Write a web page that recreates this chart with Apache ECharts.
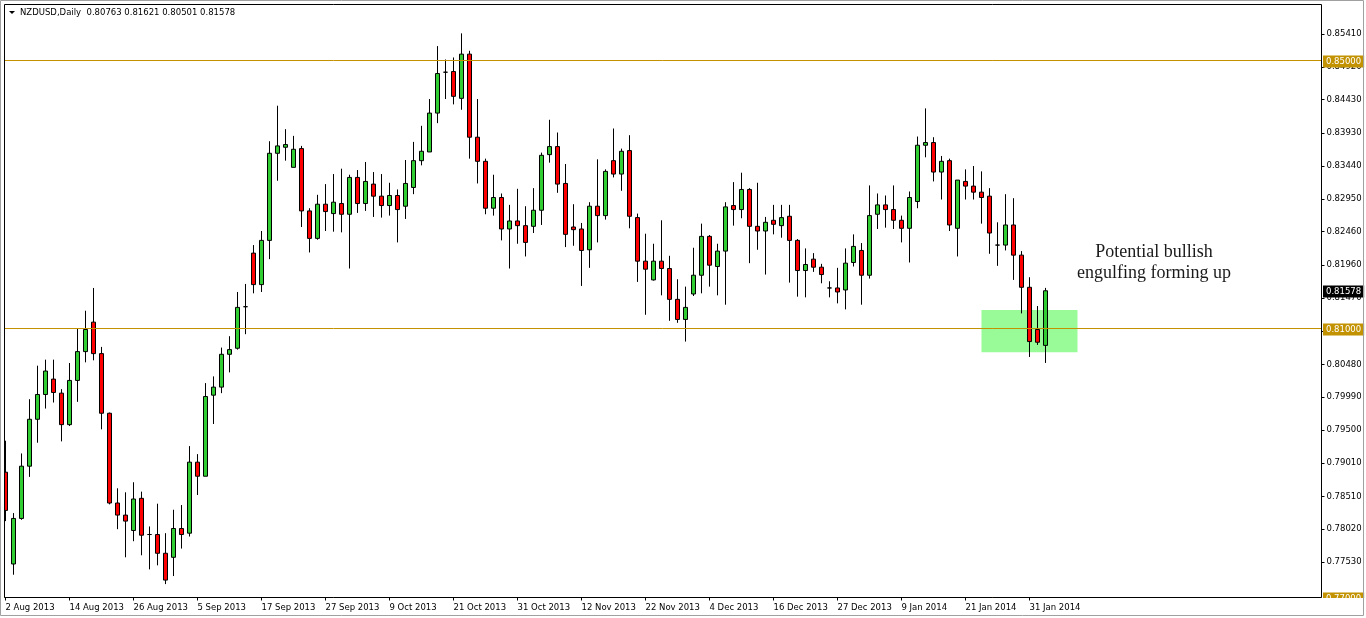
<!DOCTYPE html>
<html>
<head>
<meta charset="utf-8">
<script src="https://cdn.jsdelivr.net/npm/echarts/dist/echarts.min.js"></script>
<style>
html,body{margin:0;padding:0;background:#fff;}
#c{width:1366px;height:618px;}
</style>
</head>
<body>
<div id="c"></div>
<script>
// ---- data ----
const symbolName = 'NZDUSD';
const periodName = 'Daily';

// trading days shown on the chart (one candle each)
const tradingDays = [
  ['Aug 2013', [2,5,6,7,8,9,12,13,14,15,16,19,20,21,22,23,26,27,28,29,30]],
  ['Sep 2013', [2,3,4,5,6,9,10,11,12,13,16,17,18,19,20,23,24,25,26,27,30]],
  ['Oct 2013', [1,2,3,4,7,8,9,10,11,14,15,16,17,18,21,22,23,24,25,28,29,30,31]],
  ['Nov 2013', [1,4,5,6,7,8,11,12,13,14,15,18,19,20,21,22,25,26,27,28,29]],
  ['Dec 2013', [2,3,4,5,6,9,10,11,12,13,16,17,18,19,20,23,24,26,27,30,31]],
  ['Jan 2014', [2,3,6,7,8,9,10,13,14,15,16,17,20,21,22,23,24,27,28,29,30,31]],
  ['Feb 2014', [3,4]]
];
// empty space to the right of the last candle
const futureDays = [
  ['Feb 2014', [5,6,7,10,11,12,13,14,17,18,19,20,21,24,25,26,27,28]],
  ['Mar 2014', [3,4,5,6,7,10,11,12,13,14,17,18,19,20,21,24]]
];

const opens = [
0.7887,0.7750,0.7818,0.7896,0.7966,0.8003,0.8026,0.8005,0.7958,0.8024,
0.8067,0.8111,0.8064,0.7975,0.7841,0.7823,0.7800,0.7848,0.7794,0.7794,
0.7766,0.7760,0.7803,0.7796,0.7902,0.7881,0.8002,0.8014,0.8063,0.8072,
0.8134,0.8214,0.8167,0.8233,0.8363,0.8372,0.8342,0.8370,0.8277,0.8236,
0.8287,0.8273,0.8288,0.8272,0.8327,0.8288,0.8317,0.8299,0.8285,0.8300,
0.8284,0.8312,0.8352,0.8365,0.8423,0.8484,0.8485,0.8445,0.8511,0.8387,
0.8351,0.8281,0.8297,0.8250,0.8262,0.8255,0.8254,0.8278,0.8361,0.8373,
0.8318,0.8253,0.8250,0.8219,0.8284,0.8270,0.8352,0.8332,0.8367,0.8267,
0.8202,0.8174,0.8202,0.8191,0.8145,0.8115,0.8153,0.8181,0.8239,0.8194,
0.8217,0.8285,0.8279,0.8309,0.8254,0.8247,0.8263,0.8255,0.8269,0.8233,
0.8188,0.8205,0.8193,0.8162,0.8162,0.8159,0.8200,0.8218,0.8181,0.8272,
0.8286,0.8279,0.8263,0.8251,0.8291,0.8375,0.8379,0.8335,0.8352,0.8251,
0.8321,0.8314,0.8305,0.8299,0.8226,0.8226,0.8256,0.8211,0.8163,0.8100,
0.80763];
const highs = [
0.7934,0.7826,0.7915,0.7996,0.8046,0.8055,0.8055,0.8011,0.8050,0.8102,
0.8128,0.8162,0.8074,0.7976,0.7863,0.7857,0.7872,0.7858,0.7806,0.7840,
0.7796,0.7831,0.7838,0.7926,0.7914,0.8020,0.8030,0.8073,0.8090,0.8156,
0.8168,0.8226,0.8247,0.8381,0.8434,0.8399,0.8389,0.8374,0.8281,0.8301,
0.8317,0.8332,0.8340,0.8331,0.8338,0.8350,0.8335,0.8332,0.8319,0.8309,
0.8353,0.8380,0.8404,0.8444,0.8523,0.8503,0.8506,0.8542,0.8516,0.8444,
0.8355,0.8331,0.8303,0.8286,0.8310,0.8284,0.8311,0.8364,0.8413,0.8394,
0.8347,0.8287,0.8259,0.8290,0.8354,0.8339,0.8400,0.8370,0.8390,0.8273,
0.8243,0.8228,0.8263,0.8210,0.8175,0.8164,0.8222,0.8258,0.8241,0.8228,
0.8290,0.8320,0.8334,0.8311,0.8319,0.8268,0.8286,0.8286,0.8286,0.8235,
0.8221,0.8214,0.8198,0.8172,0.8192,0.8221,0.8242,0.8229,0.8315,0.8303,
0.8300,0.8315,0.8270,0.8306,0.8388,0.8430,0.8387,0.8359,0.8355,0.8323,
0.8339,0.8344,0.8336,0.8311,0.8260,0.8302,0.8296,0.8217,0.8178,0.8135,
0.81621];
const lows = [
0.7814,0.7734,0.7816,0.7880,0.7931,0.7982,0.7991,0.7933,0.7956,0.7992,
0.8051,0.8054,0.7951,0.7839,0.7802,0.7760,0.7784,0.7763,0.7742,0.7748,
0.7720,0.7732,0.7773,0.7791,0.7853,0.7881,0.7959,0.8005,0.8036,0.8070,
0.8093,0.8154,0.8156,0.8205,0.8322,0.8352,0.8342,0.8253,0.8215,0.8234,
0.8247,0.8246,0.8245,0.8191,0.8274,0.8277,0.8268,0.8267,0.8270,0.8230,
0.8265,0.8302,0.8345,0.8365,0.8408,0.8444,0.8436,0.8428,0.8355,0.8318,
0.8272,0.8270,0.8233,0.8191,0.8228,0.8209,0.8244,0.8256,0.8349,0.8304,
0.8223,0.8225,0.8165,0.8192,0.8230,0.8264,0.8327,0.8307,0.8251,0.8171,
0.8122,0.8173,0.8151,0.8113,0.8110,0.8082,0.8150,0.8154,0.8164,0.8151,
0.8137,0.8255,0.8266,0.8199,0.8219,0.8182,0.8242,0.8237,0.8170,0.8149,
0.8148,0.8186,0.8169,0.8148,0.8139,0.8130,0.8194,0.8137,0.8176,0.8250,
0.8252,0.8250,0.8230,0.8200,0.8281,0.8357,0.8321,0.8294,0.8247,0.8209,
0.8294,0.8294,0.8258,0.8213,0.8195,0.8218,0.8174,0.8124,0.8059,0.8077,
0.80501];
const closes = [
0.7830,0.7818,0.7896,0.7966,0.8003,0.8038,0.8006,0.7958,0.8024,0.8067,
0.8100,0.8064,0.7975,0.7841,0.7823,0.7814,0.7847,0.7793,0.7794,0.7766,
0.7726,0.7803,0.7794,0.7902,0.7881,0.8000,0.8014,0.8063,0.8070,0.8133,
0.8134,0.8167,0.8233,0.8363,0.8374,0.8376,0.8369,0.8277,0.8236,0.8287,
0.8276,0.8290,0.8272,0.8327,0.8288,0.8321,0.8299,0.8285,0.8300,0.8279,
0.8318,0.8352,0.8366,0.8423,0.8482,0.8484,0.8448,0.8511,0.8387,0.8351,
0.8281,0.8297,0.8250,0.8262,0.8255,0.8230,0.8278,0.8360,0.8373,0.8317,
0.8242,0.8249,0.8218,0.8284,0.8270,0.8336,0.8332,0.8366,0.8269,0.8202,
0.8190,0.8202,0.8191,0.8145,0.8115,0.8133,0.8181,0.8239,0.8196,0.8217,
0.8283,0.8279,0.8309,0.8254,0.8247,0.8260,0.8257,0.8267,0.8233,0.8188,
0.8197,0.8193,0.8182,0.8162,0.8156,0.8199,0.8224,0.8181,0.8270,0.8286,
0.8279,0.8263,0.8251,0.8297,0.8375,0.8379,0.8335,0.8351,0.8256,0.8323,
0.8314,0.8305,0.8297,0.8244,0.8226,0.8256,0.8211,0.8163,0.8082,0.8081,
0.81578];

const xTickLabels = ['2 Aug 2013','14 Aug 2013','26 Aug 2013','5 Sep 2013','17 Sep 2013',
  '27 Sep 2013','9 Oct 2013','21 Oct 2013','31 Oct 2013','12 Nov 2013','22 Nov 2013',
  '4 Dec 2013','16 Dec 2013','27 Dec 2013','9 Jan 2014','21 Jan 2014','31 Jan 2014'];
const yTickValues = [0.7753,0.7802,0.7851,0.7901,0.7950,0.7999,0.8048,0.8097,0.8147,
  0.8196,0.8246,0.8295,0.8344,0.8393,0.8443,0.8492,0.8541];
const levels = [0.85, 0.81, 0.77];
const zone = {from: '23 Jan 2014', to: '10 Feb 2014', low: 0.8066, high: 0.8129};
const noteLines = ['Potential bullish', 'engulfing forming up'];

// ---- build ----
function expand(groups) {
  const out = [];
  groups.forEach(([m, days]) => days.forEach(d => out.push(d + ' ' + m)));
  return out;
}
const dates = expand(tradingDays);
const categories = dates.concat(expand(futureDays));
const ohlc = opens.map((o, i) => [o, closes[i], lows[i], highs[i]]);
const last = ohlc.length - 1;

const FONT = 'DejaVu Sans';
const FS = 8.5;
const GOLD = '#C39200';

const chart = echarts.init(document.getElementById('c'), null, {renderer: 'canvas'});

const header = symbolName + ',' + periodName + '  ' +
  [opens[last], highs[last], lows[last], closes[last]].map(v => v.toFixed(5)).join(' ');

const GRID = {left: 1.5, width: 1320, top: 4.5, height: 593};

const option = {
  animation: false,
  backgroundColor: '#fff',
  grid: Object.assign({show: false}, GRID),
  xAxis: {
    type: 'category',
    data: categories,
    boundaryGap: true,
    axisLine: {show: false},
    axisTick: {show: true, alignWithLabel: true, length: 3, lineStyle: {color: '#000'},
      interval: (i, v) => xTickLabels.indexOf(v) >= 0},
    axisLabel: {interval: (i, v) => xTickLabels.indexOf(v) >= 0, align: 'left', margin: 6,
      fontFamily: FONT, fontSize: FS, color: '#000'},
    splitLine: {show: false}
  },
  yAxis: {
    type: 'value',
    position: 'right',
    min: 0.77,
    max: 0.858507,
    axisLine: {show: false},
    axisTick: {show: true, length: 3, customValues: yTickValues, lineStyle: {color: '#000'}},
    axisLabel: {customValues: yTickValues, formatter: v => v.toFixed(5), margin: 5,
      hideOverlap: false, fontFamily: FONT, fontSize: FS, color: '#000'},
    splitLine: {show: false}
  },
  series: [{
    type: 'candlestick',
    data: ohlc,
    barWidth: 4,
    itemStyle: {color: '#32CD32', color0: '#FF0000', borderColor: '#000', borderColor0: '#000', borderWidth: 1},
    markArea: {
      silent: true,
      itemStyle: {color: '#98FB98', opacity: 1},
      data: [[{xAxis: zone.from, yAxis: zone.high}, {xAxis: zone.to, yAxis: zone.low}]]
    }
  }]
};
chart.setOption(option);

// overlay: level lines and price boxes positioned through the chart's own y scale
const right = GRID.left + GRID.width;
const gfx = [];
function priceBox(v, bg, z) {
  const y = chart.convertToPixel({yAxisIndex: 0}, v);
  gfx.push({type: 'text', z: z, silent: true, x: right + 1.5, y: Math.round(y) + 0.5,
    style: {text: v.toFixed(5), fontFamily: FONT, fontSize: FS, fill: '#fff',
      backgroundColor: bg, padding: [2, 3, 1, 3], align: 'left', verticalAlign: 'middle'}});
}
levels.forEach(v => {
  const y = Math.round(chart.convertToPixel({yAxisIndex: 0}, v)) - 0.5;
  gfx.push({type: 'line', z: 40, silent: true,
    shape: {x1: 4, y1: y, x2: right, y2: y}, style: {stroke: GOLD, lineWidth: 1}});
  priceBox(v, GOLD, 60);
});
priceBox(closes[last], '#000', 61);

gfx.push(
  {type: 'rect', z: 90, silent: true, shape: {x: 0, y: 0, width: 4, height: 598}, style: {fill: '#fff'}},
  {type: 'rect', z: 90, silent: true, shape: {x: 1322, y: 598, width: 44, height: 20}, style: {fill: '#fff'}},
  {type: 'rect', z: 95, silent: true, shape: {x: 4.5, y: 4.5, width: 1317, height: 593},
    style: {fill: null, stroke: '#000', lineWidth: 1}},
  {type: 'rect', z: 95, silent: true, shape: {x: 0.5, y: 0.5, width: 1363, height: 615},
    style: {fill: null, stroke: '#a0a0a0', lineWidth: 1}},
  {type: 'polygon', z: 96, silent: true, shape: {points: [[9, 11], [15, 11], [12, 14]]}, style: {fill: '#000'}},
  {type: 'text', z: 96, silent: true, x: 20, y: 13,
    style: {text: header, fontFamily: FONT, fontSize: FS, fill: '#000', verticalAlign: 'middle'}},
  {type: 'text', z: 96, silent: true, x: 1154, y: 252,
    style: {text: noteLines[0], fontFamily: 'Liberation Serif', fontSize: 18, fill: '#1a1a1a', align: 'center', verticalAlign: 'middle'}},
  {type: 'text', z: 96, silent: true, x: 1154, y: 273,
    style: {text: noteLines[1], fontFamily: 'Liberation Serif', fontSize: 18, fill: '#1a1a1a', align: 'center', verticalAlign: 'middle'}}
);
chart.setOption({graphic: gfx});
</script>
</body>
</html>
